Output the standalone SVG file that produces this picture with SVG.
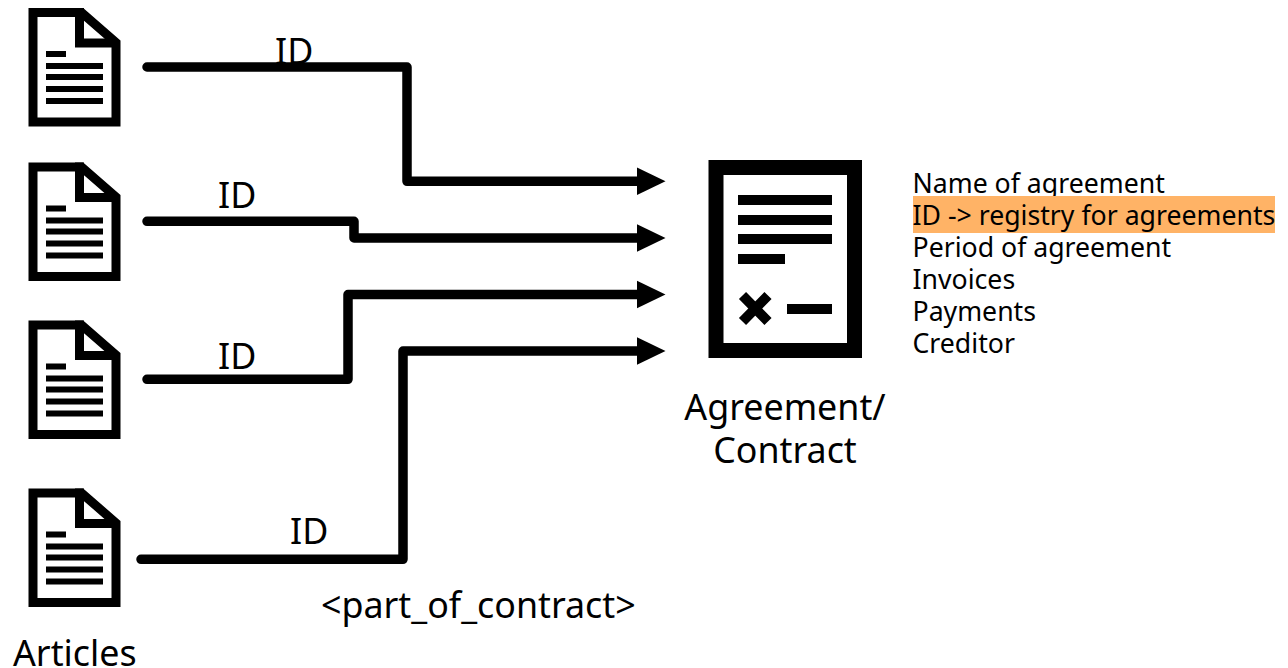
<svg xmlns="http://www.w3.org/2000/svg" xmlns:xlink="http://www.w3.org/1999/xlink" width="1288" height="668" viewBox="0 0 1288 668">
<style>
text{font-family:"Noto Sans",sans-serif;fill:#000}
.lbl{font-size:35.8px}
.attr{font-size:26.67px}
.conn{fill:none;stroke:#000;stroke-width:9.5;stroke-linecap:round;stroke-linejoin:round}
.head{fill:#000;stroke:none}
.fr{fill:#fff;stroke:#000;stroke-width:9;stroke-linejoin:miter}
.fold{fill:none;stroke:#000;stroke-width:9}
.bar{fill:#000}
</style>
<defs>
<g id="doc">
<path class="fr" d="M33 12.500H81.500L116 42.500V122H33Z"/>
<path class="fold" d="M79.500 8V43H116"/>
<rect class="bar" x="46" y="51" width="20" height="6"/>
<rect class="bar" x="46" y="63" width="57" height="6"/>
<rect class="bar" x="46" y="74" width="57" height="6"/>
<rect class="bar" x="46" y="86" width="57" height="6"/>
<rect class="bar" x="46" y="98" width="57" height="6"/>
</g>
</defs>
<g id="connectors">
<path class="conn" d="M147 67H407V181.300H642"/><path class="head" d="M665.500 181.300L637 167.600V195Z"/>
<path class="conn" d="M147 221.300H354V238H642"/><path class="head" d="M665.500 238L637 224.300V251.700Z"/>
<path class="conn" d="M147 379.300H348V294.500H642"/><path class="head" d="M665.500 294.500L637 280.800V308.200Z"/>
<path class="conn" d="M141 559.300H403V351H642"/><path class="head" d="M665.500 351L637 337.300V364.700Z"/>
</g>
<g id="article-1"><use xlink:href="#doc"/></g>
<g id="article-2"><use xlink:href="#doc" y="154.500"/></g>
<g id="article-3"><use xlink:href="#doc" y="312.500"/></g>
<g id="article-4"><use xlink:href="#doc" y="480.500"/></g>
<g id="articles-label"><text class="lbl" x="13" y="665.500">Articles</text></g>
<g id="id-labels">
<text class="lbl" x="275" y="64">ID</text>
<text class="lbl" x="218" y="207.500">ID</text>
<text class="lbl" x="218" y="369">ID</text>
<text class="lbl" x="290" y="543.500">ID</text>
</g>
<g id="part-of-contract"><text class="lbl" x="321" y="618">&lt;part_of_contract&gt;</text></g>
<g id="agreement">
<rect x="716" y="167.500" width="138.500" height="183" fill="#fff" stroke="#000" stroke-width="15"/>
<rect class="bar" x="738" y="195" width="94" height="10"/>
<rect class="bar" x="738" y="215" width="94" height="10"/>
<rect class="bar" x="738" y="234" width="94" height="10"/>
<rect class="bar" x="738" y="254" width="47" height="10"/>
<rect class="bar" x="787" y="304" width="45" height="10"/>
<path d="M742.500 295.500L768 321.500M768 295.500L742.500 321.500" fill="none" stroke="#000" stroke-width="10"/>
<text class="lbl" x="785" y="419.500" text-anchor="middle">Agreement/</text>
<text class="lbl" x="785" y="462.500" text-anchor="middle">Contract</text>
</g>
<g id="attributes">
<text class="attr" x="912.500" y="193">Name of agreement</text>
<rect x="913" y="196" width="362" height="37" fill="#ffb366"/>
<text class="attr" x="912.500" y="225">ID -&gt; registry for agreements</text>
<text class="attr" x="912.500" y="257">Period of agreement</text>
<text class="attr" x="912.500" y="289">Invoices</text>
<text class="attr" x="912.500" y="321">Payments</text>
<text class="attr" x="912.500" y="353">Creditor</text>
</g>
</svg>
